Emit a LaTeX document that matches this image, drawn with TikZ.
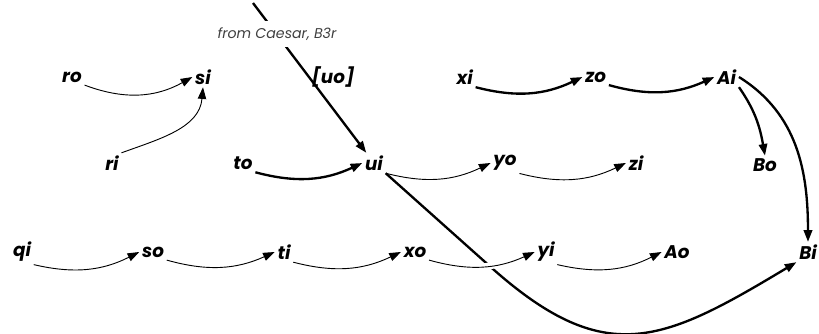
\documentclass[tikz,border=0pt]{standalone}
\usepackage{fontspec}
\setsansfont{Poppins}
\usetikzlibrary{positioning,arrows.meta}

\begin{document}
\begin{tikzpicture}[x=0.6pt, y=-0.6pt, font=\sffamily\bfseries\itshape\fontsize{11}{13}\selectfont,
    node distance=0pt and 78.6pt, on grid]
  \tikzstyle{word}=[inner sep=1.5pt]
  \tikzstyle{link}=[line width=0.55pt,-{Triangle[length=7pt,width=5pt]}]
  \tikzstyle{mainlink}=[line width=1.4pt,-{Triangle[length=7pt,width=5pt]}]
  \tikzstyle{source}=[fill=white, inner xsep=1pt, inner ysep=4pt, text=black!75,
    font=\sffamily\mdseries\itshape\fontsize{8.5}{10}\selectfont]
  \useasboundingbox (0,0) rectangle (819,333);
  % top row
  \node[word] (ro) at (72,77) {ro};
  \node[word] (si) [right=of ro] {si};
  \node[word] (xi) [right=157pt of si] {xi};
  \node[word] (zo) [right=of xi] {zo};
  \node[word] (Ai) [right=of zo] {Ai};
  \node[word] (uo) at (333,77) {[uo]};
  % middle row
  \node[word] (ri) at (112,163) {ri};
  \node[word] (to) [right=of ri] {to};
  \node[word] (ui) [right=of to] {ui};
  \node[word] (yo) [right=of ui] {yo};
  \node[word] (zi) [right=of yo] {zi};
  \node[word] (Bo) at (765,165) {Bo};
  % bottom row
  \node[word] (qi) at (22,252) {qi};
  \node[word] (so) [right=of qi] {so};
  \node[word] (ti) [right=of so] {ti};
  \node[word] (xo) [right=of ti] {xo};
  \node[word] (yi) [right=of xo] {yi};
  \node[word] (Ao) [right=of yi] {Ao};
  \node[word] (Bi) [right=of Ao] {Bi};
  % incoming reading
  \coordinate (top) at (253,3);
  \draw[mainlink] (top) -- (ui);
  \node[source] (caesar) at (277,34) {from Caesar, B3r};
  % arrows
  \draw[link] (ro.south east) to[bend right=25] (si.west);
  \draw[link] (ri.north east) to[out=20,in=-95] (si.south);
  \draw[mainlink] (to.south east) to[bend right=20] (ui.west);
  \draw[link] (ui.south east) to[bend right=20] (yo.west);
  \draw[link] (yo.south east) to[bend right=20] (zi.west);
  \draw[mainlink] (xi.south east) to[bend right=20] (zo.west);
  \draw[mainlink] (zo.south east) to[bend right=20] (Ai.west);
  \draw[mainlink] (Ai.south east) to[out=-55,in=100] (Bo.north);
  \draw[mainlink] (Ai.east) to[out=-32,in=90] (Bi.north);
  \draw[mainlink] (ui.south east) -- ++(103,92) to[out=-42,in=211,looseness=1.3] (Bi.south west);
  \draw[link] (qi.south east) to[bend right=20] (so.west);
  \draw[link] (so.south east) to[bend right=20] (ti.west);
  \draw[link] (ti.south east) to[bend right=20] (xo.west);
  \draw[link, preaction={draw=white,line width=4pt,-}] (xo.south east) to[bend right=20] (yi.west);
  \draw[link] (yi.south east) to[bend right=20] (Ao.west);
\end{tikzpicture}
\end{document}
